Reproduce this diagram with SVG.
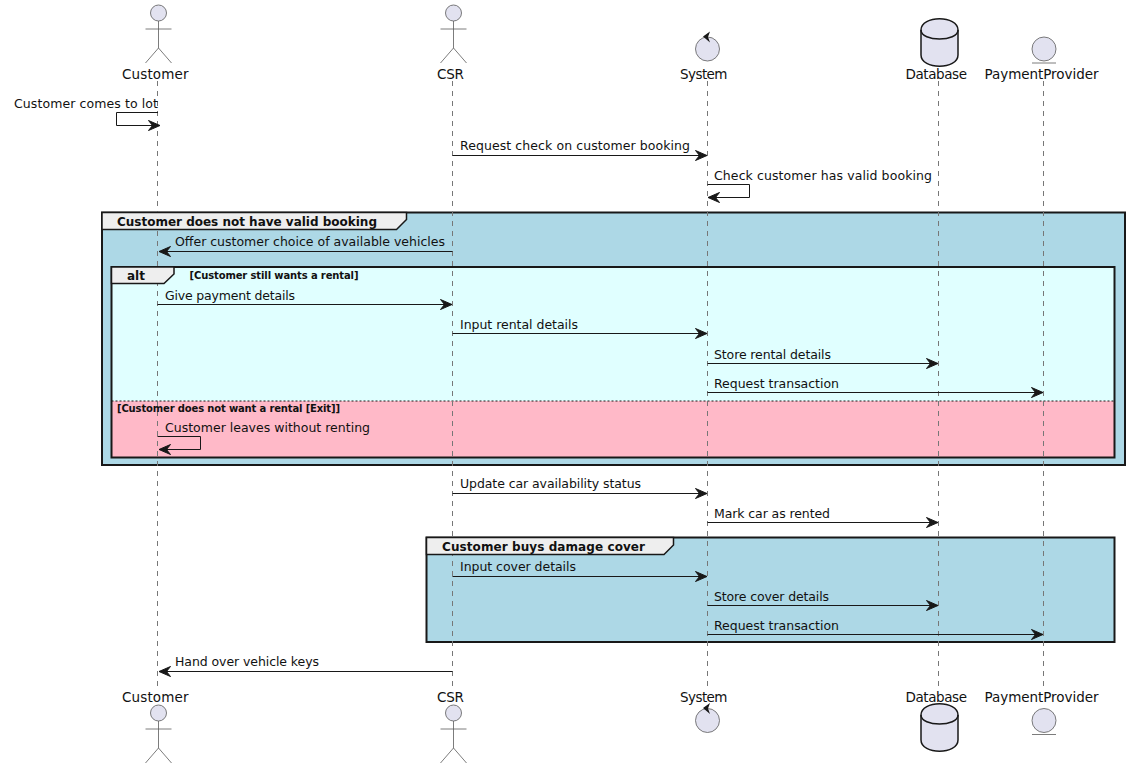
<svg xmlns="http://www.w3.org/2000/svg" width="1129" height="769" viewBox="0 0 1129 769">
<style>
text{font-family:"DejaVu Sans",sans-serif;fill:#111}
.p{font-size:13.500px}
.m{font-size:12.500px}
.g{font-size:12px;font-weight:bold}
.c{font-size:10px;font-weight:bold}
.life{stroke:#777;stroke-width:1;stroke-dasharray:5,5;fill:none}
.msg{stroke:#181818;stroke-width:1;fill:none}
.head{fill:#181818;stroke:#181818;stroke-width:1}
.actor{fill:#E2E2F0;stroke:#5a5a5a;stroke-width:.8}
.line{fill:none;stroke:#5a5a5a;stroke-width:.8}
.db{fill:#E2E2F0;stroke:#181818;stroke-width:1.500}
.frame{stroke:#181818;stroke-width:2}
.tab{fill:#EEEEEE;stroke:#181818;stroke-width:1.500}
</style>
<defs>
<marker id="r" markerUnits="userSpaceOnUse" markerWidth="14" markerHeight="12" refX="12" refY="6" orient="auto"><path class="head" d="M0.500,1 L12,6 L0.500,11 L4.500,6 Z"/></marker>
<g id="actor"><circle class="actor" cx="0" cy="8" r="8"/><path class="line" d="M0,16 V43 M-13,24 H13 M0,43 L-13,58 M0,43 L13,58"/></g>
<g id="control"><circle class="actor" cx="0" cy="0" r="12"/><path fill="#181818" d="M-4.500,-12.500 L2.500,-17.500 L0.500,-12 L2.500,-6.500 Z"/></g>
<g id="database"><path class="db" d="M-18.500,11 C-18.500,-4 18.500,-4 18.500,11 V36 C18.500,51 -18.500,51 -18.500,36 Z"/><path fill="none" stroke="#181818" stroke-width="1.500" d="M-18.500,11 C-18.500,23 18.500,23 18.500,11"/></g>
<g id="entity"><circle class="actor" cx="0" cy="0" r="12"/><path class="line" d="M-12,14 H12"/></g>
</defs>

<g id="groups">
<rect id="frame-booking" class="frame" x="102" y="212.500" width="1023" height="252.500" fill="#ADD8E6"/>
<g id="frame-alt"><rect x="111.500" y="267" width="1003" height="134" fill="#E0FFFF"/><rect x="111.500" y="401" width="1003" height="57" fill="#FFB9C8"/><rect class="frame" x="111.500" y="267" width="1003" height="190.500" fill="none"/><path d="M111.500,401 H1114.500" stroke="#181818" stroke-width="1" stroke-dasharray="2,2"/></g>
<rect id="frame-cover" class="frame" x="426.500" y="537.500" width="688" height="104.500" fill="#ADD8E6"/>
</g>

<g id="lifelines">
<path class="life" d="M157.500,81 V686"/><path class="life" d="M452.500,81 V686"/><path class="life" d="M707.500,81 V686"/><path class="life" d="M938.500,81 V686"/><path class="life" d="M1043.500,81 V686"/>
</g>

<g id="group-labels">
<path class="tab" d="M102,212.500 H406.500 V219.500 L396.500,229.500 H102 Z"/><text class="g" x="117" y="226" textLength="260">Customer does not have valid booking</text>
<path class="tab" d="M111.500,267 H174 V274 L164,283.500 H111.500 Z"/><text class="g" x="127" y="280" textLength="18">alt</text><text class="c" x="189.500" y="278.500" textLength="169">[Customer still wants a rental]</text><text class="c" x="117" y="411.500" textLength="223">[Customer does not want a rental [Exit]]</text>
<path class="tab" d="M426.500,537.500 H673.500 V545 L664,554.500 H426.500 Z"/><text class="g" x="442" y="551" textLength="203">Customer buys damage cover</text>
</g>

<g id="connectors">
<path class="msg" marker-end="url(#r)" d="M158,112.500 H116.500 V125.500 H160"/>
<path class="msg" marker-end="url(#r)" d="M452.500,155.500 H707"/>
<path class="msg" marker-end="url(#r)" d="M707.500,184.500 H749.500 V197.500 H708"/>
<path class="msg" marker-end="url(#r)" d="M452.500,251.500 H159"/>
<path class="msg" marker-end="url(#r)" d="M157.500,304.500 H452"/>
<path class="msg" marker-end="url(#r)" d="M452.500,333.500 H707"/>
<path class="msg" marker-end="url(#r)" d="M707.500,363.500 H938"/>
<path class="msg" marker-end="url(#r)" d="M707.500,392.500 H1043"/>
<path class="msg" marker-end="url(#r)" d="M157.500,436.500 H200.500 V449.500 H159"/>
<path class="msg" marker-end="url(#r)" d="M452.500,493.500 H707"/>
<path class="msg" marker-end="url(#r)" d="M707.500,522.500 H938"/>
<path class="msg" marker-end="url(#r)" d="M452.500,576.500 H707"/>
<path class="msg" marker-end="url(#r)" d="M707.500,605.500 H938"/>
<path class="msg" marker-end="url(#r)" d="M707.500,634.500 H1043"/>
<path class="msg" marker-end="url(#r)" d="M452.500,671.500 H159"/>
</g>

<g id="labels">
<text class="m" x="14" y="108" textLength="144">Customer comes to lot</text>
<text class="m" x="460" y="150" textLength="230">Request check on customer booking</text>
<text class="m" x="714" y="180" textLength="218">Check customer has valid booking</text>
<text class="m" x="175" y="246" textLength="270">Offer customer choice of available vehicles</text>
<text class="m" x="165" y="300" textLength="130">Give payment details</text>
<text class="m" x="460" y="329" textLength="118">Input rental details</text>
<text class="m" x="714" y="359" textLength="117">Store rental details</text>
<text class="m" x="714" y="388" textLength="125">Request transaction</text>
<text class="m" x="165" y="432" textLength="205">Customer leaves without renting</text>
<text class="m" x="460" y="488" textLength="181">Update car availability status</text>
<text class="m" x="714" y="518" textLength="116">Mark car as rented</text>
<text class="m" x="460" y="571" textLength="116">Input cover details</text>
<text class="m" x="714" y="601" textLength="115">Store cover details</text>
<text class="m" x="714" y="630" textLength="125">Request transaction</text>
<text class="m" x="175" y="666" textLength="144">Hand over vehicle keys</text>
</g>

<g id="node-customer-top"><use href="#actor" x="158.500" y="5"/><text class="p" x="122" y="79" textLength="66.500">Customer</text></g>
<g id="node-csr-top"><use href="#actor" x="453.500" y="5"/><text class="p" x="437" y="79" textLength="27">CSR</text></g>
<g id="node-system-top"><use href="#control" x="707.500" y="49"/><text class="p" x="680" y="79" textLength="47.500">System</text></g>
<g id="node-database-top"><use href="#database" x="939.500" y="19"/><text class="p" x="905.500" y="79" textLength="61.500">Database</text></g>
<g id="node-payment-top"><use href="#entity" x="1044" y="49"/><text class="p" x="984.500" y="79" textLength="114">PaymentProvider</text></g>
<g id="node-customer-bottom"><use href="#actor" x="158.500" y="705"/><text class="p" x="122" y="702" textLength="66.500">Customer</text></g>
<g id="node-csr-bottom"><use href="#actor" x="453.500" y="705"/><text class="p" x="437" y="702" textLength="27">CSR</text></g>
<g id="node-system-bottom"><use href="#control" x="707.500" y="720.500"/><text class="p" x="680" y="702" textLength="47.500">System</text></g>
<g id="node-database-bottom"><use href="#database" x="939.500" y="704"/><text class="p" x="905.500" y="702" textLength="61.500">Database</text></g>
<g id="node-payment-bottom"><use href="#entity" x="1044" y="720.500"/><text class="p" x="984.500" y="702" textLength="114">PaymentProvider</text></g>
</svg>
